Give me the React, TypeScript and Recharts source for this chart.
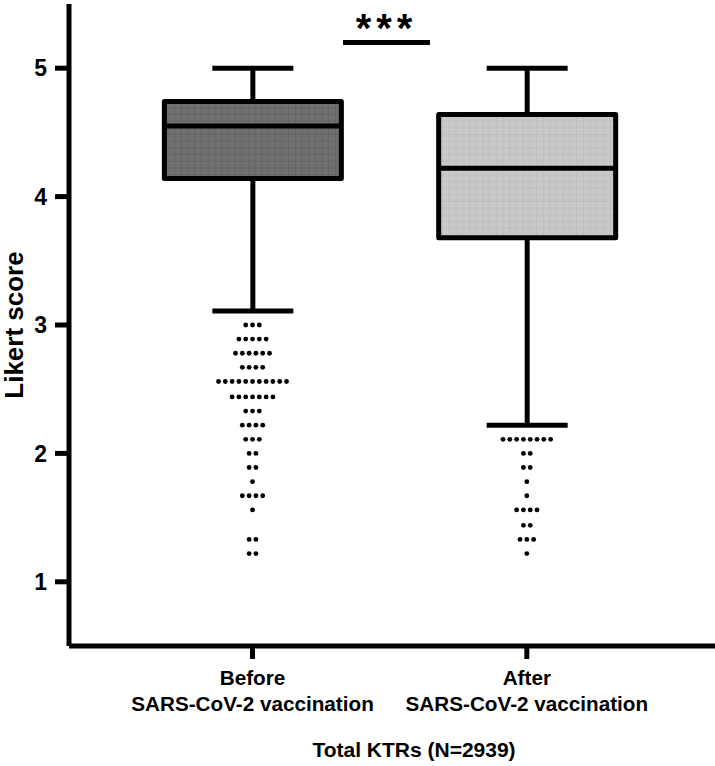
import React from 'react';
import {
  ComposedChart,
  Bar,
  Scatter,
  XAxis,
  YAxis,
  ReferenceLine,
} from 'recharts';

// groups on the x axis (numeric positions so the annotation can sit between them)
const groups = ['Before', 'After'];
const groupPos = [1, 2];
const groupSubtitle = 'SARS-CoV-2 vaccination';

// box plot summary
const whiskerLow = [3.11, 2.22];
const q1 = [4.14, 3.68];
const medians = [4.55, 4.22];
const q3 = [4.74, 4.64];
const whiskerHigh = [5, 5];

// outliers: score level and how many dots sit on that row
const beforeOutlierScores = [3, 2.89, 2.78, 2.67, 2.56, 2.44, 2.33, 2.22, 2.11, 2, 1.89, 1.78, 1.67, 1.56, 1.33, 1.22];
const beforeOutlierCounts = [3, 5, 6, 4, 11, 7, 3, 4, 3, 2, 2, 1, 4, 1, 2, 2];
const afterOutlierScores = [2.11, 2, 1.89, 1.78, 1.67, 1.56, 1.44, 1.33, 1.22];
const afterOutlierCounts = [8, 2, 2, 1, 1, 4, 2, 3, 1];

const yTicks = [1, 2, 3, 4, 5];
const significance = '***';
const sigFrom = 1.33;
const sigTo = 1.647;
const sigLevel = 5.2;

const FONT = '"Liberation Sans", Arial, sans-serif';
const boxFills = ['url(#gridDark)', 'url(#gridLight)'];

const boxData = groups.map((g, i) => ({
  x: groupPos[i],
  name: g,
  range: [whiskerLow[i], whiskerHigh[i]],
  min: whiskerLow[i],
  q1: q1[i],
  median: medians[i],
  q3: q3[i],
  max: whiskerHigh[i],
}));

function expandOutliers(pos: number, scores: number[], counts: number[]) {
  const pts: { x: number; y: number; slot: number }[] = [];
  scores.forEach((s, r) => {
    const n = counts[r];
    for (let k = 0; k < n; k++) {
      pts.push({ x: pos, y: s, slot: k - (n - 1) / 2 });
    }
  });
  return pts;
}

const outlierData = [
  ...expandOutliers(groupPos[0], beforeOutlierScores, beforeOutlierCounts),
  ...expandOutliers(groupPos[1], afterOutlierScores, afterOutlierCounts),
];

function BoxShape(props: any) {
  const { x, y, width, height, payload, index } = props;
  const { min, max } = payload;
  const py = (v: number) => y + ((max - v) / (max - min)) * height;
  const cx = x + width / 2;
  const cap = 40.5;
  return (
    <g>
      <line x1={cx} x2={cx} y1={py(max)} y2={py(payload.q3)} stroke="#000" strokeWidth={5} />
      <line x1={cx} x2={cx} y1={py(payload.q1)} y2={py(min)} stroke="#000" strokeWidth={5} />
      <line x1={cx - cap} x2={cx + cap} y1={py(max)} y2={py(max)} stroke="#000" strokeWidth={5} />
      <line x1={cx - cap} x2={cx + cap} y1={py(min)} y2={py(min)} stroke="#000" strokeWidth={5} />
      <rect
        x={x}
        y={py(payload.q3)}
        width={width}
        height={py(payload.q1) - py(payload.q3)}
        fill={boxFills[index]}
        stroke="#000"
        strokeWidth={5}
        strokeLinejoin="round"
      />
      <line
        x1={x}
        x2={x + width}
        y1={py(payload.median)}
        y2={py(payload.median)}
        stroke="#000"
        strokeWidth={5}
      />
    </g>
  );
}

function DotShape(props: any) {
  const { cx, cy, payload } = props;
  if (cx == null || cy == null) return null;
  return <circle cx={cx + payload.slot * 6.8} cy={cy} r={2.4} fill="#000" />;
}

function GroupTick(props: any) {
  const { x, y, payload } = props;
  const i = groupPos.indexOf(payload.value);
  return (
    <g>
      <text x={x} y={y} dy={24} textAnchor="middle" fontFamily={FONT} fontWeight="bold" fontSize={20.7} fill="#000">
        {groups[i]}
      </text>
      <text x={x} y={y} dy={50} textAnchor="middle" fontFamily={FONT} fontWeight="bold" fontSize={20.7} fill="#000">
        {groupSubtitle}
      </text>
    </g>
  );
}

function YLabel(props: any) {
  const vb = props.viewBox || {};
  const cy = (vb.y ?? 0) + (vb.height ?? 0) / 2;
  const x = 23;
  return (
    <text
      x={x}
      y={cy}
      transform={`rotate(-90, ${x}, ${cy})`}
      textAnchor="middle"
      fontFamily={FONT}
      fontWeight="bold"
      fontSize={26}
      fill="#000"
    >
      Likert score
    </text>
  );
}

function XLabel(props: any) {
  const vb = props.viewBox || {};
  const cx = (vb.x ?? 0) + (vb.width ?? 0) / 2 + 22;
  return (
    <text
      x={cx}
      y={(vb.y ?? 0) + 111}
      textAnchor="middle"
      fontFamily={FONT}
      fontWeight="bold"
      fontSize={21}
      fill="#000"
    >
      Total KTRs (N=2939)
    </text>
  );
}

function SigLabel(props: any) {
  const vb = props.viewBox || {};
  const cx = (vb.x ?? 0) + (vb.width ?? 0) / 2;
  return (
    <text
      x={cx}
      y={(vb.y ?? 0) - 1}
      textAnchor="middle"
      fontFamily={FONT}
      fontWeight="bold"
      fontSize={40}
      letterSpacing={5}
      fill="#000"
    >
      {significance}
    </text>
  );
}

export default function App() {
  return (
    <div style={{ position: 'absolute', left: 0, top: 0, background: '#fff' }}>
      <ComposedChart
        width={715}
        height={766}
        data={boxData}
        margin={{ top: 4, right: 0, bottom: 0, left: 0 }}
      >
        <defs>
          <pattern id="gridDark" width={6.7} height={6.7} patternUnits="userSpaceOnUse">
            <rect width={6.7} height={6.7} fill="#707070" />
            <path d="M 0 0 L 6.7 0 M 0 0 L 0 6.7" stroke="#5a5a5a" strokeWidth={1} />
          </pattern>
          <pattern id="gridLight" width={6.7} height={6.7} patternUnits="userSpaceOnUse">
            <rect width={6.7} height={6.7} fill="#c9c9c9" />
            <path d="M 0 0 L 6.7 0 M 0 0 L 0 6.7" stroke="#b6b6b6" strokeWidth={1} />
          </pattern>
        </defs>
        <XAxis
          dataKey="x"
          type="number"
          domain={[0.331, 2.686]}
          ticks={groupPos}
          allowDataOverflow
          height={120}
          tickSize={13}
          axisLine={{ stroke: '#000', strokeWidth: 5 }}
          tickLine={{ stroke: '#000', strokeWidth: 5 }}
          tick={<GroupTick />}
          label={<XLabel />}
          interval={0}
        />
        <YAxis
          type="number"
          domain={[0.5, 5.5]}
          ticks={yTicks}
          allowDataOverflow
          width={69}
          tickSize={14}
          tickMargin={8}
          axisLine={{ stroke: '#000', strokeWidth: 5 }}
          tickLine={{ stroke: '#000', strokeWidth: 5 }}
          tick={{ fill: '#000', fontFamily: FONT, fontWeight: 'bold', fontSize: 23 }}
          label={<YLabel />}
        />
        <Bar dataKey="range" barSize={177} shape={<BoxShape />} isAnimationActive={false} />
        <Scatter data={outlierData} dataKey="y" shape={<DotShape />} isAnimationActive={false} />
        <ReferenceLine
          segment={[
            { x: sigFrom, y: sigLevel },
            { x: sigTo, y: sigLevel },
          ]}
          stroke="#000"
          strokeWidth={5}
          label={<SigLabel />}
        />
      </ComposedChart>
    </div>
  );
}
